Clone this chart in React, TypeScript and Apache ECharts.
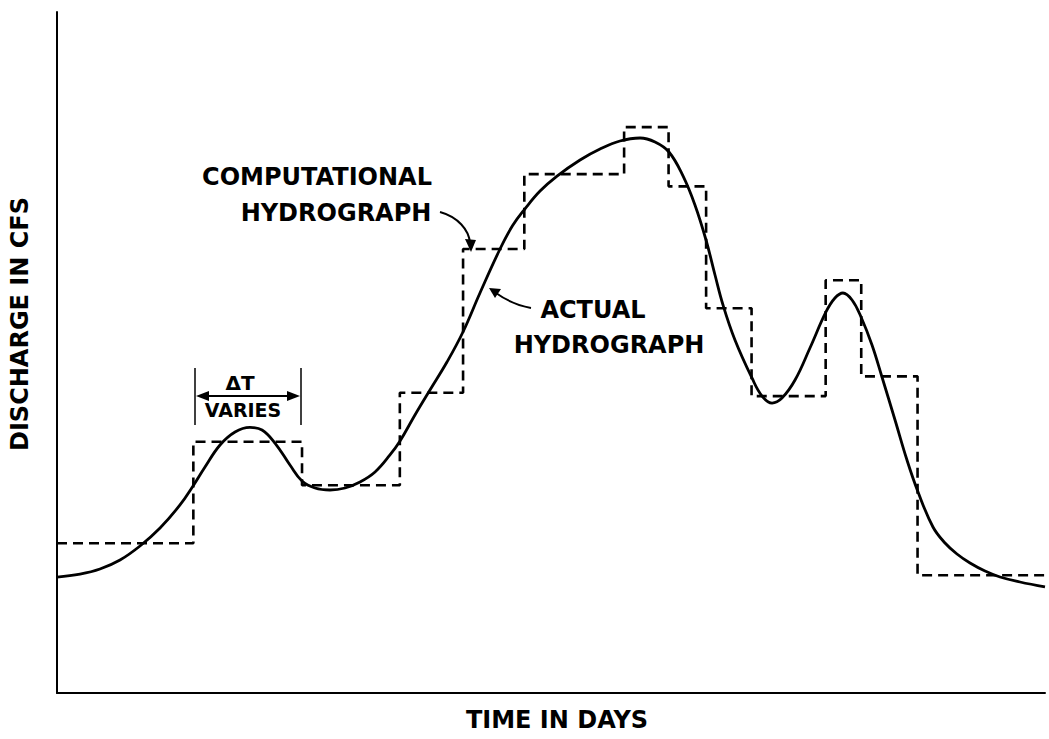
import React, { useEffect, useRef } from "react";
import * as echarts from "echarts";

// Time axis (arbitrary days, 0..100) and discharge (arbitrary cfs, 0..100)
const stepEdges = [0, 13.8, 24.8, 34.7, 41.1, 47.3, 57.4, 61.9, 65.7, 70.3, 77.8, 81.4, 87.1, 100];
const stepLevels = [22.0, 36.9, 30.5, 44.1, 65.2, 76.2, 83.1, 74.4, 56.5, 43.6, 60.6, 46.5, 17.3];

const actualTime = [
  0, 2.33, 4.35, 6.38, 8.4, 10.43, 12.45, 13.77, 14.98, 16.5, 18.02, 19.53, 20.75, 22.06, 23.58,
  24.8, 26.11, 27.63, 29.15, 30.67, 32.19, 33.7, 34.72, 36.23, 37.75, 39.47, 41.09, 42.81, 44.84,
  46.1, 47.37, 48.89, 50.61, 52.94, 54.96, 56.98, 59.01, 60.53, 61.94, 63.36, 64.57, 65.69, 66.6,
  67.41, 68.62, 70.34, 71.36, 72.37, 73.38, 74.7, 76.21, 77.83, 78.74, 79.55, 80.47, 81.38, 82.49,
  83.5, 84.82, 86.03, 87.15, 88.66, 89.88, 91.09, 92.41, 93.93, 95.45, 97.47, 100,
];
const actualDischarge = [
  17.03, 17.47, 18.21, 19.53, 21.59, 24.23, 27.61, 30.4, 33.19, 36.42, 38.33, 39.0, 38.62, 36.71,
  33.48, 31.13, 30.1, 29.81, 30.1, 30.98, 32.45, 34.95, 37.0, 40.82, 44.49, 48.6, 53.01, 58.74,
  65.2, 68.6, 71.1, 73.7, 75.9, 78.27, 79.88, 81.06, 81.5, 80.91, 79.44, 75.92, 71.66, 66.52, 61.38,
  56.98, 51.84, 46.26, 43.61, 42.58, 43.32, 45.96, 50.66, 55.95, 58.0, 58.74, 57.71, 55.21, 51.1,
  46.4, 40.09, 34.21, 29.52, 24.38, 22.03, 20.41, 19.09, 17.91, 17.03, 16.3, 15.57,
];

const xAxisTitle = "TIME IN DAYS";
const yAxisTitle = "DISCHARGE IN CFS";

const FONT = "'DejaVu Sans', sans-serif";

export default function App() {
  const ref = useRef<HTMLDivElement>(null);

  useEffect(() => {
    if (!ref.current) return;
    const chart = echarts.init(ref.current, null, { renderer: "svg" });

    const stepData: number[][] = [];
    for (let i = 0; i < stepLevels.length; i++) {
      stepData.push([stepEdges[i], stepLevels[i]]);
      stepData.push([stepEdges[i + 1], stepLevels[i]]);
    }
    const actualData = actualTime.map((t, i) => [t, actualDischarge[i]]);

    const label = (text: string, x: number, y: number, size = 24, extra: any = {}) => ({
      type: "text",
      x,
      y,
      ...extra,
      style: {
        text,
        fill: "#000",
        font: `bold ${size}px ${FONT}`,
        textAlign: "center",
        textVerticalAlign: "middle",
        align: "center",
        verticalAlign: "middle",
      },
    });

    const lineStyle = { stroke: "#000", lineWidth: 2, fill: null };

    chart.setOption({
      animation: false,
      backgroundColor: "#fff",
      grid: { left: 57, right: 4, top: 12, bottom: 46 },
      xAxis: {
        type: "value",
        min: 0,
        max: 100,
        axisLine: { show: true, lineStyle: { color: "#000", width: 2 } },
        axisTick: { show: false },
        axisLabel: { show: false },
        splitLine: { show: false },
      },
      yAxis: {
        type: "value",
        min: 0,
        max: 100,
        axisLine: { show: true, lineStyle: { color: "#000", width: 2 } },
        axisTick: { show: false },
        axisLabel: { show: false },
        splitLine: { show: false },
      },
      series: [
        {
          name: "Computational hydrograph",
          type: "line",
          data: stepData,
          symbol: "none",
          lineStyle: { color: "#000", width: 2.6, type: [10, 6] },
        },
        {
          name: "Actual hydrograph",
          type: "line",
          data: actualData,
          symbol: "none",
          smooth: 0.4,
          lineStyle: { color: "#000", width: 2.8 },
        },
      ],
      graphic: [
        label(xAxisTitle, 557, 720),
        label(yAxisTitle, 20, 324, 24, { rotation: Math.PI / 2 }),
        label("COMPUTATIONAL", 317, 177),
        label("HYDROGRAPH", 336, 213),
        label("ACTUAL", 593, 310),
        label("HYDROGRAPH", 609, 345),
        label("ΔT", 240, 383, 20),
        label("VARIES", 243, 410, 19),
        // computational arrow
        {
          type: "bezierCurve",
          shape: { x1: 440, y1: 212, cpx1: 458, cpy1: 217, cpx2: 469, cpy2: 230, x2: 470, y2: 243 },
          style: lineStyle,
        },
        { type: "polygon", shape: { points: [[471, 252], [465, 239], [476, 240]] }, style: { fill: "#000" } },
        // actual arrow
        {
          type: "bezierCurve",
          shape: { x1: 531, y1: 308, cpx1: 515, cpy1: 305, cpx2: 503, cpy2: 298, x2: 496, y2: 293 },
          style: lineStyle,
        },
        { type: "polygon", shape: { points: [[489, 288], [501, 289], [495, 298]] }, style: { fill: "#000" } },
        // delta T bracket
        { type: "line", shape: { x1: 195, y1: 368, x2: 195, y2: 425 }, style: { stroke: "#000", lineWidth: 1.5 } },
        { type: "line", shape: { x1: 301, y1: 368, x2: 301, y2: 425 }, style: { stroke: "#000", lineWidth: 1.5 } },
        { type: "line", shape: { x1: 200, y1: 396, x2: 296, y2: 396 }, style: { stroke: "#000", lineWidth: 2.2 } },
        { type: "polygon", shape: { points: [[196, 396], [209, 391], [209, 401]] }, style: { fill: "#000" } },
        { type: "polygon", shape: { points: [[300, 396], [287, 391], [287, 401]] }, style: { fill: "#000" } },
      ],
    });

    return () => chart.dispose();
  }, []);

  return (
    <div
      ref={ref}
      style={{ position: "fixed", left: 0, top: 0, width: 1049, height: 739, background: "#fff" }}
    />
  );
}
